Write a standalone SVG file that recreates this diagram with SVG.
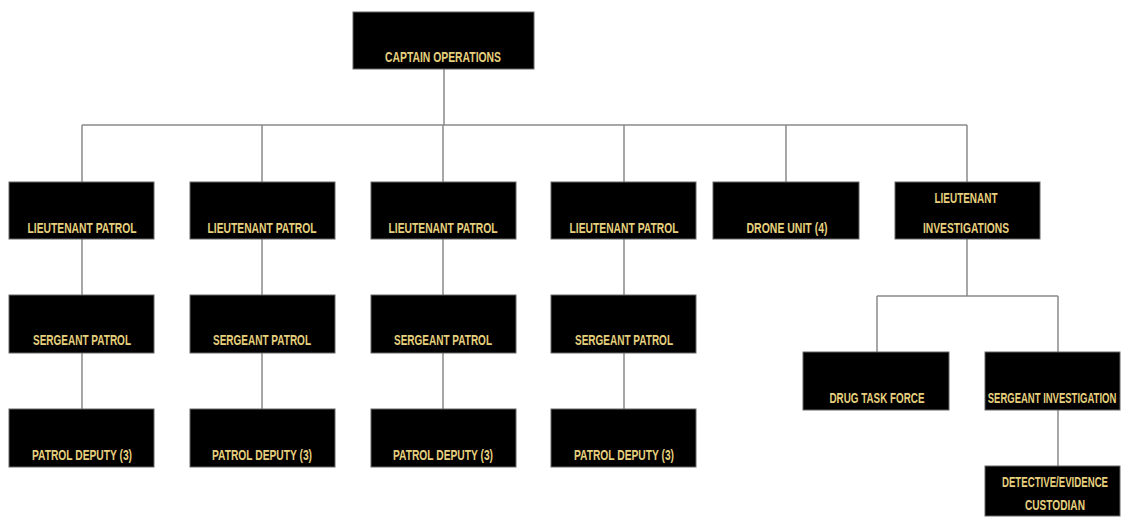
<svg xmlns="http://www.w3.org/2000/svg" width="1121" height="517" viewBox="0 0 1121 517">
<style>
.box{fill:#000;stroke:#666;stroke-width:1}
.t{font-family:"Liberation Sans",Arial,sans-serif;font-weight:bold;font-size:15px;fill:#e6d07e;text-anchor:middle}
.c{stroke:#8a8a8a;stroke-width:1.5;fill:none}
</style>
<rect width="1121" height="517" fill="#fff"/>
<g id="connectors">
<path class="c" d="M444 69V125M82 125H967M82 125V182M262 125V182M443 125V182M624 125V182M786 125V182M967 125V182"/>
<path class="c" d="M82 239V295M82 353V409M262 239V295M262 353V409M443 239V295M443 353V409M624 239V295M624 353V409"/>
<path class="c" d="M967 239V296M877 296H1058M877 296V352M1058 296V352M1058 410V466"/>
</g>
<g id="captain"><rect class="box" x="353" y="12" width="181" height="57"/><text class="t" x="443" y="62" textLength="116" lengthAdjust="spacingAndGlyphs">CAPTAIN OPERATIONS</text></g>
<g id="lt1"><rect class="box" x="9" y="182" width="145" height="57"/><text class="t" x="82" y="233" textLength="109" lengthAdjust="spacingAndGlyphs">LIEUTENANT PATROL</text></g>
<g id="lt2"><rect class="box" x="190" y="182" width="145" height="57"/><text class="t" x="262" y="233" textLength="109" lengthAdjust="spacingAndGlyphs">LIEUTENANT PATROL</text></g>
<g id="lt3"><rect class="box" x="371" y="182" width="145" height="57"/><text class="t" x="443" y="233" textLength="109" lengthAdjust="spacingAndGlyphs">LIEUTENANT PATROL</text></g>
<g id="lt4"><rect class="box" x="551" y="182" width="145" height="57"/><text class="t" x="624" y="233" textLength="109" lengthAdjust="spacingAndGlyphs">LIEUTENANT PATROL</text></g>
<g id="drone"><rect class="box" x="713" y="182" width="146" height="57"/><text class="t" x="787" y="233" textLength="81" lengthAdjust="spacingAndGlyphs">DRONE UNIT (4)</text></g>
<g id="ltinv"><rect class="box" x="895" y="182" width="145" height="57"/><text class="t" x="966" y="203" textLength="63" lengthAdjust="spacingAndGlyphs">LIEUTENANT</text><text class="t" x="966" y="233" textLength="86" lengthAdjust="spacingAndGlyphs">INVESTIGATIONS</text></g>
<g id="sgt1"><rect class="box" x="9" y="295" width="145" height="58"/><text class="t" x="82" y="345" textLength="98" lengthAdjust="spacingAndGlyphs">SERGEANT PATROL</text></g>
<g id="sgt2"><rect class="box" x="190" y="295" width="145" height="58"/><text class="t" x="262" y="345" textLength="98" lengthAdjust="spacingAndGlyphs">SERGEANT PATROL</text></g>
<g id="sgt3"><rect class="box" x="371" y="295" width="145" height="58"/><text class="t" x="443" y="345" textLength="98" lengthAdjust="spacingAndGlyphs">SERGEANT PATROL</text></g>
<g id="sgt4"><rect class="box" x="551" y="295" width="145" height="58"/><text class="t" x="624" y="345" textLength="98" lengthAdjust="spacingAndGlyphs">SERGEANT PATROL</text></g>
<g id="dep1"><rect class="box" x="9" y="409" width="145" height="58"/><text class="t" x="82" y="460" textLength="100" lengthAdjust="spacingAndGlyphs">PATROL DEPUTY (3)</text></g>
<g id="dep2"><rect class="box" x="190" y="409" width="145" height="58"/><text class="t" x="262" y="460" textLength="100" lengthAdjust="spacingAndGlyphs">PATROL DEPUTY (3)</text></g>
<g id="dep3"><rect class="box" x="371" y="409" width="145" height="58"/><text class="t" x="443" y="460" textLength="100" lengthAdjust="spacingAndGlyphs">PATROL DEPUTY (3)</text></g>
<g id="dep4"><rect class="box" x="551" y="409" width="145" height="58"/><text class="t" x="624" y="460" textLength="100" lengthAdjust="spacingAndGlyphs">PATROL DEPUTY (3)</text></g>
<g id="drug"><rect class="box" x="803" y="352" width="146" height="58"/><text class="t" x="877" y="403" textLength="95" lengthAdjust="spacingAndGlyphs">DRUG TASK FORCE</text></g>
<g id="sgtinv"><rect class="box" x="985" y="352" width="135" height="58"/><text class="t" transform="translate(1052 403) scale(0.63 1)" x="0" y="0" textLength="204" lengthAdjust="spacingAndGlyphs">SERGEANT INVESTIGATION</text></g>
<g id="detective"><rect class="box" x="985" y="466" width="135" height="50"/><text class="t" transform="translate(1055 487) scale(0.68 1)" x="0" y="0" textLength="156" lengthAdjust="spacingAndGlyphs">DETECTIVE/EVIDENCE</text><text class="t" x="1055" y="510" textLength="60" lengthAdjust="spacingAndGlyphs">CUSTODIAN</text></g>
</svg>
